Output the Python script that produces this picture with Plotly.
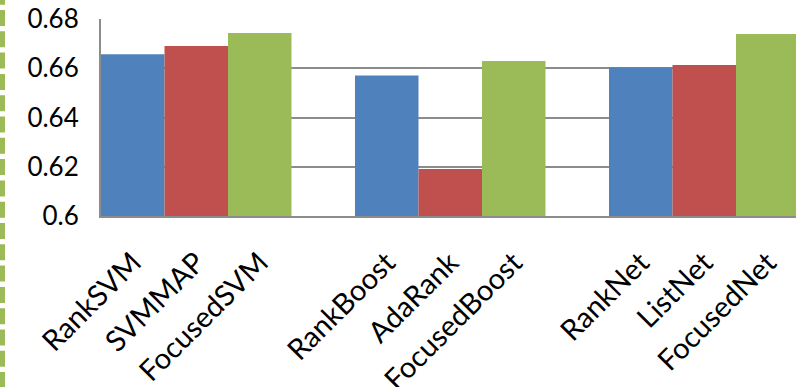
import plotly.graph_objects as go

# Ranking methods, grouped by family (baseline 1, baseline 2, focused variant)
groups = [
    ["RankSVM", "SVMMAP", "FocusedSVM"],
    ["RankBoost", "AdaRank", "FocusedBoost"],
    ["RankNet", "ListNet", "FocusedNet"],
]
scores = [
    [0.6657, 0.6690, 0.6743],
    [0.6571, 0.6191, 0.6629],
    [0.6604, 0.6613, 0.6739],
]
colors = ["#4F81BD", "#C0504D", "#9BBB59"]

y_ticks = [0.6, 0.62, 0.64, 0.66, 0.68]
y_tick_text = ["0.6", "0.62", "0.64", "0.66", "0.68"]

FONT = "Lato"
slot = 1.0                     # width of one bar slot
per_group = len(groups[0]) + 1  # three bars plus one empty slot

fig = go.Figure()
tick_pos, tick_txt = [], []
for k, color in enumerate(colors):
    xs, ys = [], []
    for g, (names, vals) in enumerate(zip(groups, scores)):
        pos = g * per_group + k
        xs.append(pos)
        ys.append(vals[k])
        tick_pos.append(pos)
        tick_txt.append(names[k])
    fig.add_trace(go.Bar(
        x=xs, y=ys, width=slot, marker=dict(color=color, line=dict(width=0)),
        showlegend=False, hoverinfo="skip",
    ))

W, H = 796, 387
ml, mt, mb = 101, 19, 171
px_per_slot = 63.5
plot_w = W - ml
x_range = [-0.5, -0.5 + plot_w / px_per_slot]

fig.update_layout(
    width=W, height=H,
    margin=dict(l=ml, r=0, t=mt, b=mb, pad=0),
    barmode="overlay",
    plot_bgcolor="white", paper_bgcolor="white",
    font=dict(family=FONT, color="black"),
)
fig.update_xaxes(
    range=x_range, tickmode="array", tickvals=tick_pos, ticktext=tick_txt,
    tickangle=-45, tickfont=dict(size=29, family=FONT),
    showgrid=False, showline=True, linecolor="#8c8c8c", linewidth=2,
    ticks="", zeroline=False, ticklabelstandoff=16, automargin=False,
)
fig.update_yaxes(
    range=[0.6, 0.68], tickmode="array", tickvals=y_ticks, ticktext=y_tick_text,
    tickfont=dict(size=26, family=FONT),
    showgrid=True, gridcolor="#8c8c8c", gridwidth=2,
    showline=True, linecolor="#8c8c8c", linewidth=2,
    ticks="", zeroline=False, ticklabelstandoff=15, automargin=False,
)

# dashed green frame edge along the left side of the canvas
plot_h = H - mt - mb
fig.add_shape(
    type="line", xref="paper", yref="paper",
    x0=(2.5 - ml) / plot_w, x1=(2.5 - ml) / plot_w,
    y0=1 + (mt + 11.3) / plot_h, y1=-(mb + 5) / plot_h,
    line=dict(color="#9BBB59", width=5, dash="16px,5.3px"),
)

fig.write_html("out.html")
